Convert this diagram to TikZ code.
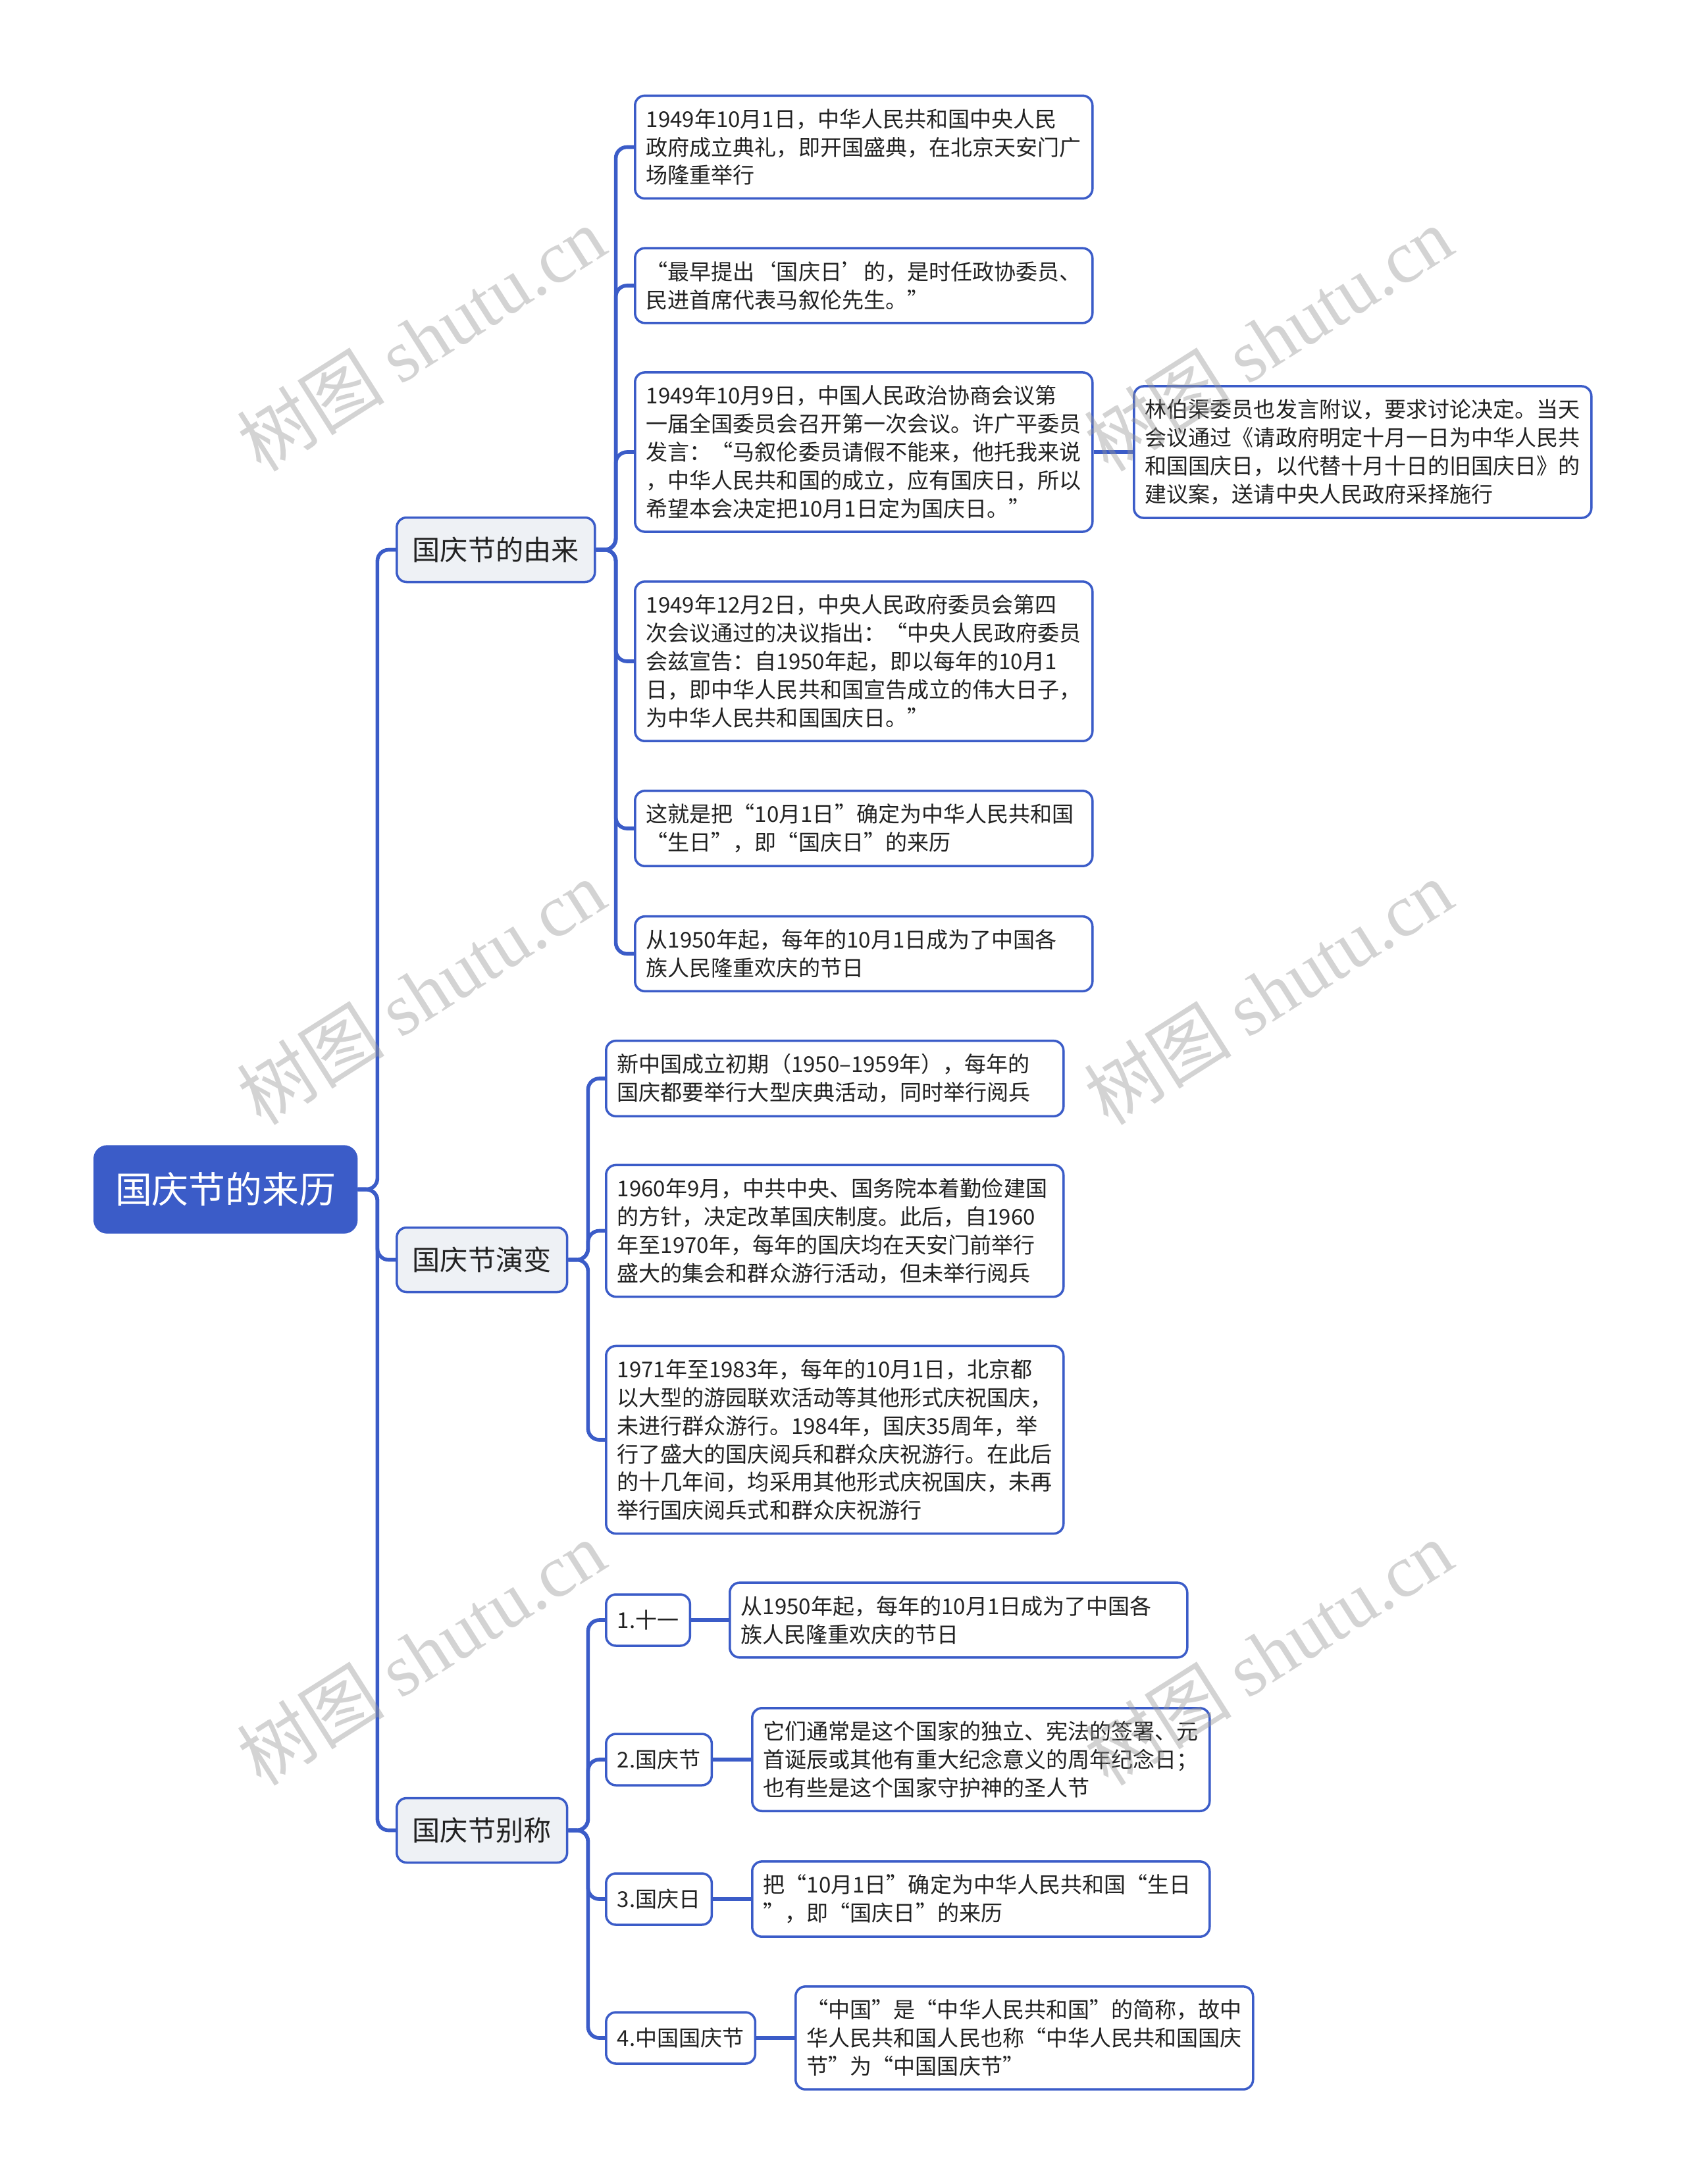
\documentclass[tikz,border=0pt]{standalone}
\usepackage{fontspec}
\setmainfont{Noto Sans CJK SC}
\newfontfamily\wmserif{Liberation Serif}
\definecolor{mapblue}{RGB}{59,92,200}
\definecolor{lvlgray}{RGB}{238,241,245}
\definecolor{txtgray}{RGB}{34,34,34}
\definecolor{wmgray}{RGB}{150,150,150}

\begin{document}
\begin{tikzpicture}[
  link/.style={draw=mapblue, line width=1.6pt, rounded corners=0.17cm},
  rootbox/.style={draw=mapblue, fill=mapblue, text=white, rounded corners=0.2cm,
    minimum width=4cm, minimum height=1.33cm, anchor=west,
    font=\fontsize{15.9pt}{19pt}\selectfont},
  topicbox/.style={draw=mapblue, line width=1pt, fill=lvlgray, text=txtgray,
    rounded corners=0.15cm, inner xsep=0.24cm, minimum height=0.98cm, anchor=west,
    font=\fontsize{12pt}{14pt}\selectfont},
  tagbox/.style={draw=mapblue, line width=1pt, fill=white, text=txtgray,
    rounded corners=0.15cm, inner xsep=0.17cm, minimum height=0.78cm, anchor=west,
    font=\fontsize{9.4pt}{12pt}\selectfont},
  notebox/.style={draw=mapblue, line width=1pt, fill=white, text=txtgray,
    rounded corners=0.15cm, inner xsep=0.17cm, inner ysep=0.2cm, text width=6.61cm,
    align=left, anchor=west, font=\fontsize{9.4pt}{12.2pt}\selectfont},
  wmtext/.style={text=wmgray, text opacity=0.42, rotate=32.4,
    font=\fontsize{32pt}{36pt}\selectfont}
]
\useasboundingbox (0,0) rectangle (25.6,-33.19);

% root
\node[rootbox] (root) at (1.42,-18.075) {国庆节的来历};

% topics
\node[topicbox] (origin) at (6.01,-8.355) {国庆节的由来};
\node[topicbox] (change) at (6.01,-19.145) {国庆节演变};
\node[topicbox] (names) at (6.01,-27.815) {国庆节别称};

\draw[link] (root.east) -- ++(0.3,0) |- (origin.west);
\draw[link] (root.east) -- ++(0.3,0) |- (change.west);
\draw[link] (root.east) -- ++(0.3,0) |- (names.west);

% origin
\node[notebox] (ori1) at (9.63,-2.235) {1949年10月1日，中华人民共和国中央人民\\政府成立典礼，即开国盛典，在北京天安门广\\场隆重举行};
\node[notebox] (ori2) at (9.63,-4.34) {“最早提出‘国庆日’的，是时任政协委员、\\民进首席代表马叙伦先生。”};
\node[notebox] (ori3) at (9.63,-6.87) {1949年10月9日，中国人民政治协商会议第\\一届全国委员会召开第一次会议。许广平委员\\发言：“马叙伦委员请假不能来，他托我来说\\，中华人民共和国的成立，应有国庆日，所以\\希望本会决定把10月1日定为国庆日。”};
\node[notebox] (ori3b) at (17.21,-6.87) {林伯渠委员也发言附议，要求讨论决定。当天\\会议通过《请政府明定十月一日为中华人民共\\和国国庆日，以代替十月十日的旧国庆日》的\\建议案，送请中央人民政府采择施行};
\node[notebox] (ori4) at (9.63,-10.05) {1949年12月2日，中央人民政府委员会第四\\次会议通过的决议指出：“中央人民政府委员\\会兹宣告：自1950年起，即以每年的10月1\\日，即中华人民共和国宣告成立的伟大日子，\\为中华人民共和国国庆日。”};
\node[notebox] (ori5) at (9.63,-12.59) {这就是把“10月1日”确定为中华人民共和国\\“生日”，即“国庆日”的来历};
\node[notebox] (ori6) at (9.63,-14.495) {从1950年起，每年的10月1日成为了中国各\\族人民隆重欢庆的节日};

\foreach \n in {ori1,ori2,ori3,ori4,ori5,ori6}
  \draw[link] (origin.east) -- ++(0.3,0) |- (\n.west);
\draw[link] (ori3.east) -- (ori3b.west);

% change
\node[notebox] (chg1) at (9.19,-16.39) {新中国成立初期（1950–1959年），每年的\\国庆都要举行大型庆典活动，同时举行阅兵};
\node[notebox] (chg2) at (9.19,-18.705) {1960年9月，中共中央、国务院本着勤俭建国\\的方针，决定改革国庆制度。此后，自1960\\年至1970年，每年的国庆均在天安门前举行\\盛大的集会和群众游行活动，但未举行阅兵};
\node[notebox] (chg3) at (9.19,-21.88) {1971年至1983年，每年的10月1日，北京都\\以大型的游园联欢活动等其他形式庆祝国庆，\\未进行群众游行。1984年，国庆35周年，举\\行了盛大的国庆阅兵和群众庆祝游行。在此后\\的十几年间，均采用其他形式庆祝国庆，未再\\举行国庆阅兵式和群众庆祝游行};

\foreach \n in {chg1,chg2,chg3}
  \draw[link] (change.east) -- ++(0.3,0) |- (\n.west);

% names
\node[tagbox] (nm1) at (9.19,-24.62) {1.十一};
\node[tagbox] (nm2) at (9.19,-26.74) {2.国庆节};
\node[tagbox] (nm3) at (9.19,-28.86) {3.国庆日};
\node[tagbox] (nm4) at (9.19,-30.97) {4.中国国庆节};

\node[notebox] (nm1t) at (11.07,-24.62) {从1950年起，每年的10月1日成为了中国各\\族人民隆重欢庆的节日};
\node[notebox] (nm2t) at (11.41,-26.74) {它们通常是这个国家的独立、宪法的签署、元\\首诞辰或其他有重大纪念意义的周年纪念日；\\也有些是这个国家守护神的圣人节};
\node[notebox] (nm3t) at (11.41,-28.86) {把“10月1日”确定为中华人民共和国“生日\\”，即“国庆日”的来历};
\node[notebox] (nm4t) at (12.07,-30.97) {“中国”是“中华人民共和国”的简称，故中\\华人民共和国人民也称“中华人民共和国国庆\\节”为“中国国庆节”};

\foreach \n in {nm1,nm2,nm3,nm4} {
  \draw[link] (names.east) -- ++(0.3,0) |- (\n.west);
  \draw[link] (\n.east) -- (\n t.west);
}

% watermark
\node[wmtext] (wm1) at (6.40,-5.15) {树图 {\wmserif shutu.cn}};
\node[wmtext] (wm2) at (19.27,-5.15) {树图 {\wmserif shutu.cn}};
\node[wmtext] (wm3) at (6.40,-15.08) {树图 {\wmserif shutu.cn}};
\node[wmtext] (wm4) at (19.27,-15.08) {树图 {\wmserif shutu.cn}};
\node[wmtext] (wm5) at (6.40,-25.12) {树图 {\wmserif shutu.cn}};
\node[wmtext] (wm6) at (19.27,-25.12) {树图 {\wmserif shutu.cn}};
\end{tikzpicture}
\end{document}
